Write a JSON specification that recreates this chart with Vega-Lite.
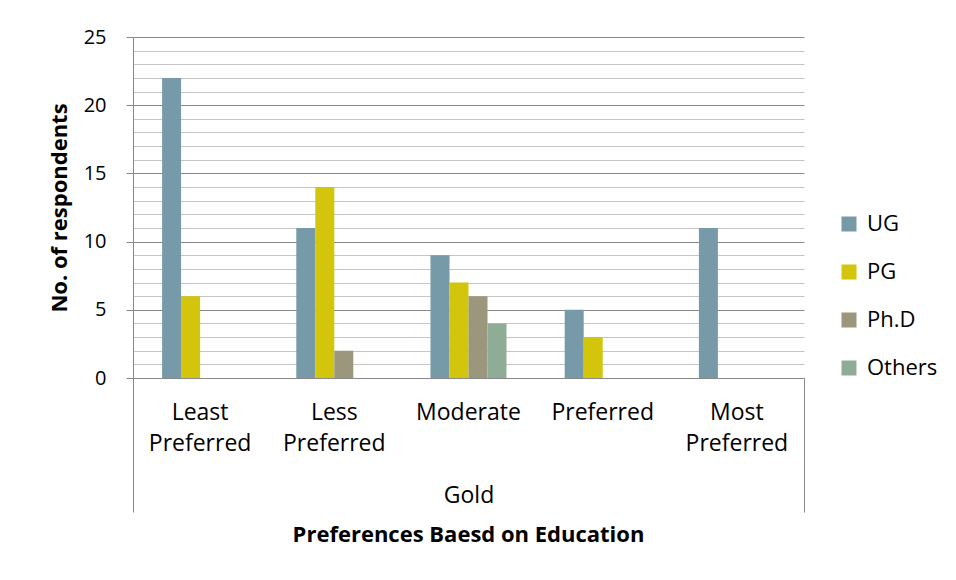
{
  "$schema": "https://vega.github.io/schema/vega-lite/v6.json",
  "width": 671,
  "height": 341,
  "autosize": {"type": "none"},
  "padding": {"left": 133, "top": 37, "right": 152, "bottom": 202},
  "background": "white",
  "config": {"font": "Open Sans", "view": {"stroke": null}},
  "title": {"text": "Preferences Baesd on Education", "orient": "bottom", "fontSize": 22, "fontWeight": "bold", "font": "Open Sans", "color": "black", "offset": 12, "anchor": "middle"},
  "data": {"values": [
    {"preference": "Least Preferred", "education": "UG", "count": 22},
    {"preference": "Least Preferred", "education": "PG", "count": 6},
    {"preference": "Less Preferred", "education": "UG", "count": 11},
    {"preference": "Less Preferred", "education": "PG", "count": 14},
    {"preference": "Less Preferred", "education": "Ph.D", "count": 2},
    {"preference": "Moderate", "education": "UG", "count": 9},
    {"preference": "Moderate", "education": "PG", "count": 7},
    {"preference": "Moderate", "education": "Ph.D", "count": 6},
    {"preference": "Moderate", "education": "Others", "count": 4},
    {"preference": "Preferred", "education": "UG", "count": 5},
    {"preference": "Preferred", "education": "PG", "count": 3},
    {"preference": "Most Preferred", "education": "UG", "count": 11}
  ]},
  "layer": [
    {
      "mark": {"type": "bar"},
      "encoding": {
        "x": {
          "field": "preference", "type": "nominal",
          "sort": ["Least Preferred", "Less Preferred", "Moderate", "Preferred", "Most Preferred"],
          "scale": {"paddingInner": 0, "paddingOuter": 0},
          "axis": {
            "title": "Gold", "titleFontWeight": "normal", "titleFontSize": 23, "titleY": 117, "titleBaseline": "middle", "titleColor": "black",
            "labelExpr": "split(datum.label, ' ')", "labelAngle": 0, "labelFontSize": 23, "labelColor": "black", "labelLineHeight": 31, "labelBaseline": "top", "labelPadding": -111,
            "tickSize": 134, "bandPosition": 0,
            "tickColor": {"condition": {"test": "datum.value === 'Least Preferred'", "value": "#888888"}, "value": "transparent"},
            "domainColor": "#888888", "grid": false
          }
        },
        "xOffset": {"field": "education", "type": "nominal", "scale": {"domain": ["UG", "PG", "Ph.D", "Others"], "paddingInner": 0, "paddingOuter": 0, "range": [29.1, 105.1]}},
        "y": {
          "field": "count", "type": "quantitative",
          "scale": {"domain": [0, 25]},
          "axis": {
            "values": [0,1,2,3,4,5,6,7,8,9,10,11,12,13,14,15,16,17,18,19,20,21,22,23,24,25],
            "title": "No. of respondents", "titleFontSize": 22, "titleFontWeight": "bold", "titleColor": "black", "titlePadding": 12,
            "labelExpr": "datum.value % 5 === 0 ? datum.label : ''", "labelFontSize": 20, "labelColor": "black", "labelPadding": 20, "labelOverlap": false, "labelFlush": false,
            "tickSize": 7,
            "tickColor": {"condition": {"test": "datum.value % 5 === 0", "value": "#888888"}, "value": "transparent"},
            "gridColor": {"condition": {"test": "datum.value % 5 === 0", "value": "#888888"}, "value": "#c4c4c4"},
            "domainColor": "#888888"
          }
        },
        "color": {
          "field": "education", "type": "nominal",
          "scale": {"domain": ["UG", "PG", "Ph.D", "Others"], "range": ["#769AA7", "#D2C50B", "#9B977D", "#8FAD96"]},
          "legend": {"orient": "none", "legendX": 705, "legendY": 176, "title": null, "symbolType": "square", "symbolSize": 225, "symbolStrokeWidth": 0, "labelFontSize": 22, "labelColor": "black", "rowPadding": 26, "labelOffset": 7}
        }
      }
    },
    {
      "mark": {"type": "rule", "opacity": 0},
      "encoding": {
        "x": {
          "field": "preference", "type": "nominal",
          "sort": ["Least Preferred", "Less Preferred", "Moderate", "Preferred", "Most Preferred"],
          "axis": {
            "orient": "bottom", "labels": false, "domain": false, "grid": false, "title": null,
            "tickSize": 134, "bandPosition": 1,
            "tickColor": {"condition": {"test": "datum.value === 'Most Preferred'", "value": "#888888"}, "value": "transparent"}
          }
        }
      }
    }
  ],
  "resolve": {"axis": {"x": "independent"}}
}
